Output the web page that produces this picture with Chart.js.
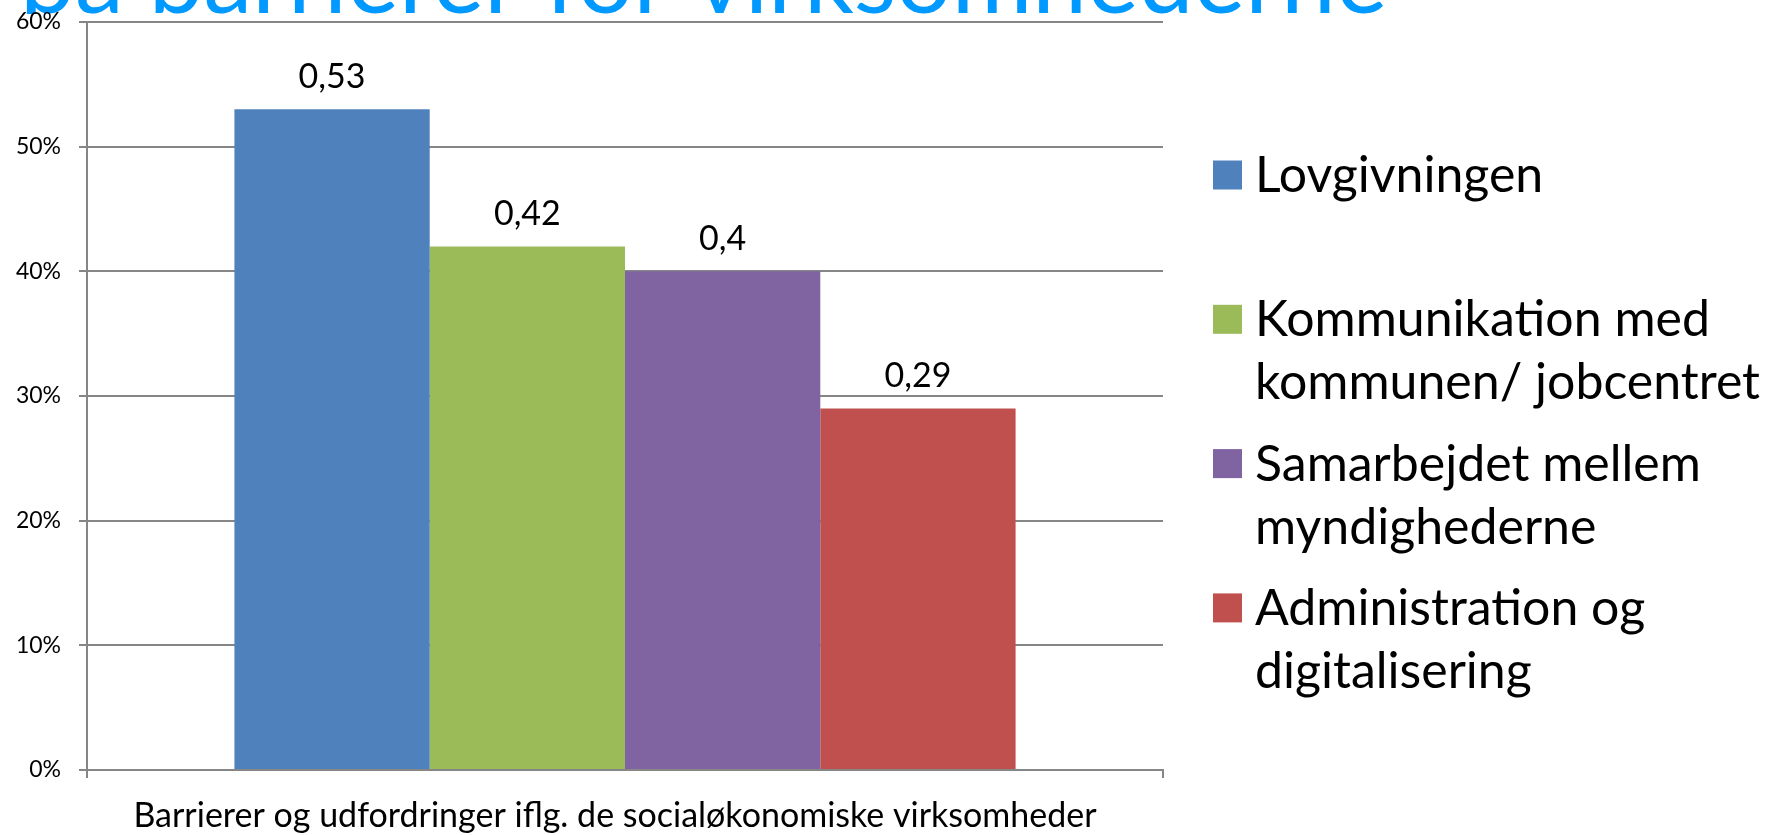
<!DOCTYPE html>
<html><head><meta charset="utf-8">
<script src="https://cdn.jsdelivr.net/npm/chart.js@4.4.0/dist/chart.umd.min.js"></script>
<style>html,body{margin:0;padding:0;background:#fff;overflow:hidden}#wrap{width:1778px;height:835px;position:relative}</style>
</head><body><div id="wrap"><canvas id="c" width="1778" height="835"></canvas></div>
<script>
const slideTitle = 'på barrierer for virksomhederne';
const categories = ['Barrierer og udfordringer iflg. de socialøkonomiske virksomheder'];
const seriesNames = ['Lovgivningen', 'Kommunikation med kommunen/ jobcentret', 'Samarbejdet mellem myndighederne', 'Administration og digitalisering'];
const lovgivning = [0.53];
const kommunikation = [0.42];
const samarbejde = [0.40];
const administration = [0.29];
const seriesValues = [lovgivning, kommunikation, samarbejde, administration];
const seriesColors = ['#4F81BD', '#9BBB59', '#8064A2', '#C0504D'];
const yMin = 0, yMax = 0.6, yStep = 0.1;

const FONT = 'Lato, "Open Sans", sans-serif';

const titleBehind = {
  id: 'titleBehind',
  beforeDraw(chart) {
    const ctx = chart.ctx;
    ctx.save();
    ctx.beginPath();
    ctx.rect(0, 0, chart.width, 14);
    ctx.clip();
    ctx.fillStyle = '#0099FF';
    ctx.font = '98px ' + FONT;
    ctx.textBaseline = 'alphabetic';
    ctx.textAlign = 'left';
    ctx.fillText(slideTitle, 20, 13);
    ctx.restore();
  }
};

const barLabels = {
  id: 'barLabels',
  afterDatasetsDraw(chart) {
    const ctx = chart.ctx;
    ctx.save();
    ctx.fillStyle = '#000';
    ctx.font = '34px ' + FONT;
    ctx.textAlign = 'center';
    ctx.textBaseline = 'alphabetic';
    chart.data.datasets.forEach((ds, i) => {
      const meta = chart.getDatasetMeta(i);
      meta.data.forEach((el, j) => {
        const v = ds.data[j];
        ctx.fillText(String(v).replace('.', ','), el.x, el.y - 21);
      });
    });
    ctx.restore();
  }
};

function wrap(ctx, text, maxW) {
  const words = text.split(' ');
  const lines = [];
  let cur = '';
  words.forEach(w => {
    const t = cur ? cur + ' ' + w : w;
    if (ctx.measureText(t).width > maxW && cur) { lines.push(cur); cur = w; }
    else cur = t;
  });
  if (cur) lines.push(cur);
  return lines;
}

const sideLegend = {
  id: 'sideLegend',
  afterDraw(chart) {
    const ctx = chart.ctx;
    ctx.save();
    ctx.font = '50px ' + FONT;
    ctx.textBaseline = 'middle';
    ctx.textAlign = 'left';
    const x0 = 1213, box = 29, tx = 1255, y0 = 176, spacing = 144.3, lh = 63;
    chart.data.datasets.forEach((ds, i) => {
      const yc = y0 + i * spacing;
      ctx.fillStyle = ds.backgroundColor;
      ctx.fillRect(x0, yc - box / 2 - 1, box, box);
      ctx.fillStyle = '#000';
      wrap(ctx, ds.label, 540).forEach((ln, k) => ctx.fillText(ln, tx, yc + k * lh));
    });
    ctx.restore();
  }
};

new Chart(document.getElementById('c'), {
  type: 'bar',
  data: {
    labels: categories,
    datasets: seriesNames.map((n, i) => ({
      label: n,
      data: seriesValues[i],
      backgroundColor: seriesColors[i],
      borderWidth: 0,
      barPercentage: 1,
      categoryPercentage: 0.726
    }))
  },
  options: {
    responsive: false,
    animation: false,
    devicePixelRatio: 1,
    layout: { padding: { top: 22, right: 615, left: 0, bottom: 0 } },
    plugins: { legend: { display: false }, tooltip: { enabled: false } },
    scales: {
      x: {
        grid: { offset: true, drawOnChartArea: false, drawTicks: true, tickLength: 8, color: '#868686', lineWidth: 2 },
        border: { display: true, color: '#868686', width: 2 },
        ticks: { color: '#000', font: { family: FONT, size: 34 }, padding: 18, maxRotation: 0, labelOffset: -10 },
        afterFit(s) { s.height = 65; s.paddingLeft = 0; s.paddingRight = 0; }
      },
      y: {
        min: yMin, max: yMax,
        grid: { color: '#868686', lineWidth: 2, tickLength: 8 },
        border: { display: true, color: '#868686', width: 2 },
        ticks: { stepSize: yStep, color: '#000', font: { family: FONT, size: 23 }, padding: 18,
          callback: v => Math.round(v * 100) + '%' },
        afterFit(s) { s.width = 87; s.paddingTop = 0; s.paddingBottom = 0; }
      }
    }
  },
  plugins: [titleBehind, barLabels, sideLegend]
});
</script></body></html>
